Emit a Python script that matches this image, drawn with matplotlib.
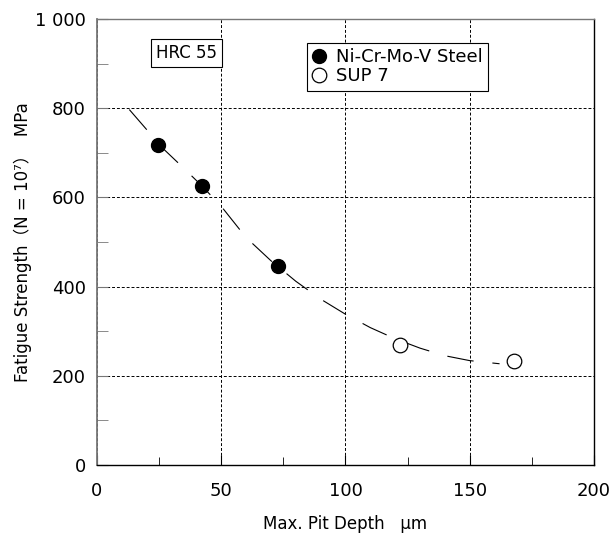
import matplotlib
matplotlib.use('agg')
import matplotlib.pyplot as plt
from matplotlib.ticker import MultipleLocator, FuncFormatter

plt.rcParams['font.family'] = ['DejaVu Sans', 'Noto Sans CJK JP']

# measured points
steel_depth = [24.5, 42.3, 72.8]
steel_strength = [717, 625, 446]
sup7_depth = [122, 168]
sup7_strength = [269, 233]

# fitted trend curve
curve_depth = [13, 20, 25, 35, 42, 50, 60, 70, 80, 90, 100, 110, 120, 130, 140, 150, 162]
curve_strength = [797, 752, 718, 665, 627, 580, 510, 458, 412, 372, 338, 308, 283, 262, 245, 234, 227]

fig = plt.figure(figsize=(6.13, 5.38), dpi=100)
ax = fig.add_axes([0.1582, 0.1357, 0.8108, 0.829])

ax.plot(curve_depth, curve_strength, color='black', lw=0.8, dashes=(24, 17), zorder=2)
ax.plot(steel_depth, steel_strength, 'o', color='black', ms=10, label='Ni-Cr-Mo-V Steel', zorder=3)
ax.plot(sup7_depth, sup7_strength, 'o', mfc='white', mec='black', mew=0.9, ms=10.5, label='SUP 7', zorder=3)

ax.set_xlim(0, 200)
ax.set_ylim(0, 1000)
ax.xaxis.set_major_locator(MultipleLocator(50))
ax.xaxis.set_minor_locator(MultipleLocator(25))
ax.yaxis.set_major_locator(MultipleLocator(200))
ax.yaxis.set_minor_locator(MultipleLocator(100))
ax.yaxis.set_major_formatter(FuncFormatter(lambda v, p: '1 000' if v == 1000 else '%d' % v))

ax.grid(True, which='major', color='black', lw=0.7, ls=(0, (3, 2)))
ax.tick_params(which='both', direction='in', top=False, right=False, labelsize=13)
ax.tick_params(axis='x', which='major', length=7, pad=12)
ax.tick_params(axis='x', which='minor', length=6)
ax.tick_params(axis='y', which='major', length=8, pad=8, color='#777777')
ax.tick_params(axis='y', which='minor', length=8, color='#777777')

ax.spines['left'].set_color('#777777')
ax.spines['top'].set_color('#777777')
ax.spines['left'].set_linewidth(1.3)
ax.spines['top'].set_linewidth(1.0)
ax.spines['right'].set_linewidth(1.0)
ax.spines['bottom'].set_linewidth(1.0)

ax.set_xlabel('Max. Pit Depth   \u03bcm', fontsize=12, labelpad=11)
ax.set_ylabel('Fatigue Strength\uff08N = 10\u2077\uff09  MPa', fontsize=12, labelpad=2)

ax.text(36, 923, 'HRC 55', fontsize=12, ha='center', va='center',
        bbox=dict(boxstyle='square,pad=0.3', fc='white', ec='black', lw=0.8))

leg = ax.legend(loc='upper left', bbox_to_anchor=(0.4225, 0.946), borderaxespad=0,
                fancybox=False, edgecolor='black', framealpha=1, fontsize=13,
                handlelength=0.7, handletextpad=0.6, borderpad=0.3, labelspacing=0.05)
leg.get_frame().set_linewidth(0.8)

fig.savefig('out.png', dpi=100)
